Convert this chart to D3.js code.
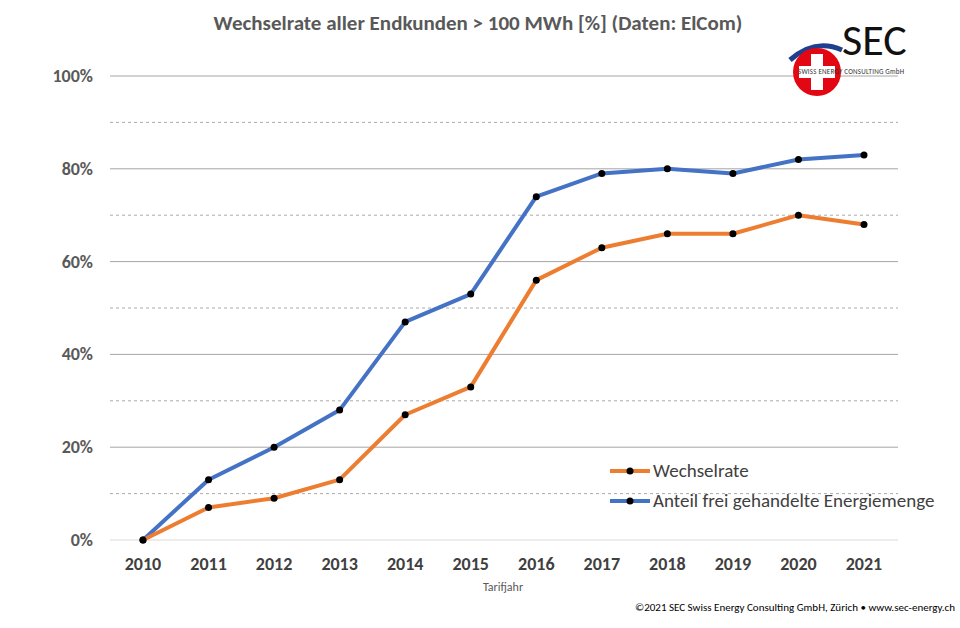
<!DOCTYPE html>
<html><head><meta charset="utf-8">
<script src="https://cdn.jsdelivr.net/npm/d3@7"></script>
<style>body{margin:0;background:#fff}text{font-family:Calibri,Carlito,Lato,sans-serif}</style>
</head><body><svg id="c" width="960" height="628"></svg>
<script>
const years = [2010,2011,2012,2013,2014,2015,2016,2017,2018,2019,2020,2021]
const wechselrate = [0,7,9,13,27,33,56,63,66,66,70,68]
const anteil = [0,13,20,28,47,53,74,79,80,79,82,83]
const yTicks = [0,20,40,60,80,100]

const svg = d3.select("#c")
const x = d3.scalePoint().domain(years).range([143, 864])
const y = d3.scaleLinear().domain([0, 100]).range([540, 76])

// grid
svg.append("g").selectAll("line").data(d3.range(10, 100, 20)).join("line")
  .attr("x1", 110).attr("x2", 898).attr("y1", d => y(d)).attr("y2", d => y(d))
  .attr("stroke", "#aaa").attr("stroke-dasharray", "3,3")
svg.append("g").selectAll("line").data(yTicks).join("line")
  .attr("x1", 110).attr("x2", 898).attr("y1", d => y(d)).attr("y2", d => y(d))
  .attr("stroke", d => d === 0 ? "#d9d9d9" : "#a6a6a6")

// axes labels
svg.append("g").selectAll("text").data(yTicks).join("text")
  .attr("x", 93).attr("y", d => y(d) + 6).attr("text-anchor", "end")
  .attr("fill", "#595959").attr("font-size", 18).attr("font-weight", "bold")
  .text(d => d + "%")
svg.append("g").selectAll("text").data(years).join("text")
  .attr("x", d => x(d)).attr("y", 570).attr("text-anchor", "middle")
  .attr("fill", "#404040").attr("font-size", 18).attr("font-weight", "bold")
  .text(d => d)
svg.append("text").attr("x", 503).attr("y", 591).attr("text-anchor", "middle")
  .attr("font-size", 12).attr("fill", "#595959").text("Tarifjahr")

svg.append("text").attr("x", 478).attr("y", 30).attr("text-anchor", "middle")
  .attr("font-size", 21).attr("font-weight", "bold").attr("fill", "#595959")
  .text("Wechselrate aller Endkunden > 100 MWh [%] (Daten: ElCom)")

const line = d3.line().x((d, i) => x(years[i])).y(d => y(d))
const series = [{v: anteil, c: "#4472c4"}, {v: wechselrate, c: "#ed7d31"}]
series.forEach(s => {
  svg.append("path").datum(s.v).attr("d", line).attr("fill", "none")
    .attr("stroke", s.c).attr("stroke-width", 4).attr("stroke-linejoin", "round")
  svg.append("g").selectAll("circle").data(s.v).join("circle")
    .attr("cx", (d, i) => x(years[i])).attr("cy", d => y(d)).attr("r", 3.5).attr("fill", "#000")
})

// legend
const leg = [{n: "Wechselrate", c: "#ed7d31", y: 471}, {n: "Anteil frei gehandelte Energiemenge", c: "#4472c4", y: 501}]
leg.forEach(l => {
  svg.append("line").attr("x1", 610).attr("x2", 650).attr("y1", l.y).attr("y2", l.y)
    .attr("stroke", l.c).attr("stroke-width", 4)
  svg.append("circle").attr("cx", 630).attr("cy", l.y).attr("r", 3.5).attr("fill", "#000")
  svg.append("text").attr("x", 653).attr("y", l.y + 6).attr("font-size", 19).attr("fill", "#404040").text(l.n)
})

// logo
svg.append("path").attr("d", "M790,60 Q815,38 842,50").attr("fill", "none").attr("stroke", "#1f3f8f").attr("stroke-width", 5)
svg.append("circle").attr("cx", 817).attr("cy", 72).attr("r", 24).attr("fill", "#e30613")
svg.append("rect").attr("x", 811).attr("y", 54).attr("width", 12).attr("height", 36).attr("fill", "#fff")
svg.append("rect").attr("x", 799).attr("y", 66).attr("width", 36).attr("height", 12).attr("fill", "#fff")
svg.append("text").attr("x", 842).attr("y", 55).attr("font-size", 44).attr("font-family", "'Open Sans',sans-serif").attr("fill", "#111").text("SEC")
svg.append("text").attr("x", 798).attr("y", 74).attr("font-size", 7).attr("fill", "#333").attr("textLength", 106).text("SWISS ENERGY CONSULTING GmbH")

svg.append("text").attr("x", 955).attr("y", 611).attr("text-anchor", "end").attr("font-size", 11).attr("fill", "#000")
  .text("©2021 SEC Swiss Energy Consulting GmbH, Zürich • www.sec-energy.ch")
</script></body></html>
